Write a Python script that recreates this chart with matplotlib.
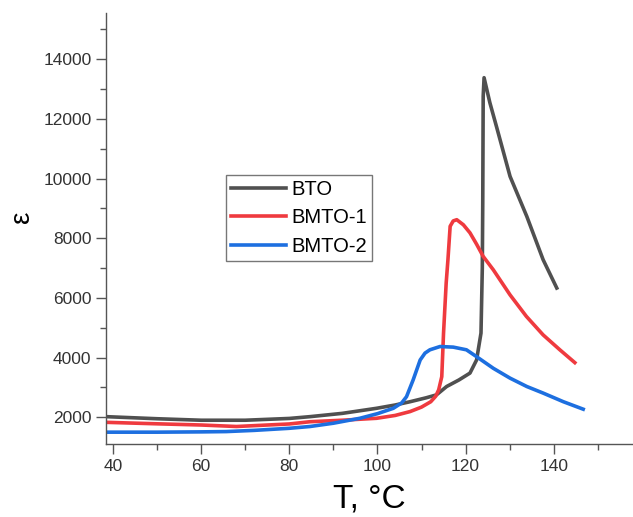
import matplotlib

matplotlib.use("Agg")
import matplotlib.pyplot as plt
from matplotlib.ticker import MultipleLocator

plt.rcParams["font.family"] = ["Liberation Sans", "DejaVu Sans"]

# values
bto_t = [38.4, 50, 60, 70, 80, 84.7, 92, 99.8, 104, 107.4, 111, 113.4, 115.7,
         118.5, 121, 122.5, 123.5, 123.8, 123.9, 124.0, 124.2, 125.5, 127.0,
         130.1, 133.9, 137.6, 140.7]
bto_eps = [2020, 1950, 1900, 1900, 1960, 2020, 2130, 2300, 2410, 2520, 2650,
           2750, 3030, 3250, 3480, 3920, 4820, 7000, 9200, 12760, 13380,
           12550, 11750, 10070, 8730, 7280, 6330]

bmto1_t = [38.4, 50, 60, 68, 80, 84.7, 92, 99.8, 104, 107.4, 110, 112.1, 113.2,
           113.9, 114.6, 115.0, 115.6, 116.0, 116.5, 117.2, 118.0, 119.5, 121,
           122.5, 124, 126.3, 130.1, 133.8, 137.6, 141.4, 144.8]
bmto1_eps = [1830, 1780, 1740, 1690, 1775, 1850, 1900, 1965, 2060, 2190, 2340,
             2520, 2700, 2920, 3360, 4820, 6500, 7280, 8400, 8580, 8620, 8450,
             8180, 7800, 7390, 6940, 6100, 5380, 4760, 4260, 3830]

bmto2_t = [38.4, 50, 60, 65.7, 72, 80, 84.7, 90, 96, 100, 103.6, 105.5, 106.6,
           108.1, 109.7, 110.8, 111.9, 114.2, 117.2, 120.2, 122.5, 126.3,
           130.1, 133.9, 137.6, 142.2, 146.7]
bmto2_eps = [1500, 1500, 1510, 1520, 1560, 1630, 1690, 1800, 1965, 2120, 2300,
             2480, 2690, 3250, 3920, 4150, 4260, 4370, 4350, 4260, 4030, 3640,
             3310, 3030, 2810, 2520, 2270]

series = [("BTO", bto_t, bto_eps, "#505050"),
          ("BMTO-1", bmto1_t, bmto1_eps, "#ef3a3f"),
          ("BMTO-2", bmto2_t, bmto2_eps, "#1d6fe0")]

fig = plt.figure(figsize=(6.33, 5.17), dpi=100)
ax = fig.add_axes([0.1675, 0.141, 0.8325, 0.834])

for name, t, eps, color in series:
    ax.plot(t, eps, color=color, lw=2.6, label=name, solid_joinstyle="round")

ax.set_xlim(38.4, 158)
ax.set_ylim(1100, 15550)
ax.xaxis.set_major_locator(MultipleLocator(20))
ax.xaxis.set_minor_locator(MultipleLocator(10))
ax.yaxis.set_major_locator(MultipleLocator(2000))
ax.yaxis.set_minor_locator(MultipleLocator(1000))

for side in ("top", "right"):
    ax.spines[side].set_visible(False)
for side in ("left", "bottom"):
    ax.spines[side].set_color("#555555")
    ax.spines[side].set_linewidth(1.0)

ax.tick_params(which="major", direction="out", length=7, width=1.0,
               color="#555555", labelsize=12.5, labelcolor="#333333")
ax.tick_params(which="minor", direction="out", length=4, width=1.0,
               color="#555555")

ax.set_xlabel("T, \u00b0C", fontsize=24, labelpad=7)
ax.set_ylabel("\u03b5", fontsize=20)
ax.yaxis.set_label_coords(-0.135, 0.527)

leg = ax.legend(loc="upper left", bbox_to_anchor=(0.228, 0.624), fontsize=14.5,
                frameon=True, fancybox=False, edgecolor="#555555",
                handlelength=2.7, handletextpad=0.3, borderpad=0.25,
                borderaxespad=0, labelspacing=0.46)
leg.get_frame().set_linewidth(1.0)

fig.savefig("out.png", dpi=100)
